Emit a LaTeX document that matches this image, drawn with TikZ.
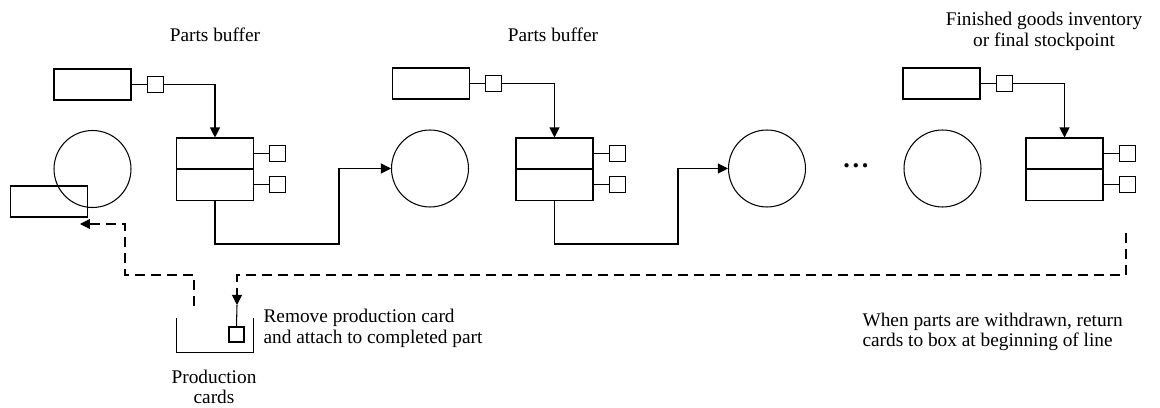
\documentclass[tikz,border=0pt]{standalone}
\usepackage{fontspec}
\setmainfont{Liberation Serif}
\usetikzlibrary{arrows.meta,positioning,calc}
\tikzset{
    rackbox/.style={draw, minimum width=1.54cm, minimum height=0.62cm, inner sep=0pt},
    cardbox/.style={draw, minimum size=0.32cm, inner sep=0pt},
    halfbox/.style={draw, minimum width=1.54cm, minimum height=0.61cm, inner sep=0pt},
    workcircle/.style={draw, circle, minimum size=1.54cm, inner sep=0pt},
    labeltext/.style={align=center, inner sep=0pt, font=\fontsize{11}{11.8}\selectfont},
    notetext/.style={labeltext, align=left, anchor=west},
    partflow/.style={-{Triangle[length=2mm, width=2mm]}, line width=0.6pt},
    cardflow/.style={partflow, dash pattern=on 2mm off 1.2mm}
}
\begin{document}
\begin{tikzpicture}[x=0.02cm, y=-0.02cm, line width=0.6pt, node distance=0.3cm]
\useasboundingbox (0,0) rectangle (1160,408);
% stage 1
\node[rackbox] (rack1) at (92.5,84.5) {};
\node[cardbox, right=of rack1] (kanban1) {};
\node[workcircle] (work1) at (92.5,169) {};
\node[rackbox] (bin0) at (49,201.5) {};
\node[halfbox] (buf1top) at (215,153.25) {};
\node[halfbox, below=0pt of buf1top] (buf1bot) {};
\node[cardbox, right=of buf1top] (tag1a) {};
\node[cardbox, right=of buf1bot] (tag1b) {};
% stage 2
\node[rackbox] (rack2) at (431,83.5) {};
\node[cardbox, right=of rack2] (kanban2) {};
\node[workcircle] (work2) at (430,168.5) {};
\node[halfbox] (buf2top) at (554.5,153.25) {};
\node[halfbox, below=0pt of buf2top] (buf2bot) {};
\node[cardbox, right=of buf2top] (tag2a) {};
\node[cardbox, right=of buf2bot] (tag2b) {};
% last stage
\node[workcircle] (work3) at (767,168.5) {};
\node[inner sep=0pt, font=\fontsize{15}{15}\selectfont\bfseries] (dots) at (856,166) {.\hspace{1.5pt}.\hspace{1.5pt}.};
\node[workcircle] (work4) at (942.5,168.5) {};
\node[rackbox] (rack3) at (941.5,83.5) {};
\node[cardbox, right=of rack3] (kanban3) {};
\node[halfbox] (buf3top) at (1064.5,153.25) {};
\node[halfbox, below=0pt of buf3top] (buf3bot) {};
\node[cardbox, right=of buf3top] (tag3a) {};
\node[cardbox, right=of buf3bot] (tag3b) {};
% production card box
\node[minimum width=1.52cm, minimum height=0.66cm, inner sep=0pt] (cardbin) at (215,335.5) {};
\node[cardbox, minimum size=0.3cm] (prodcard) at (236.5,334.5) {};
% labels
\node[labeltext] (lbl1) at (215,35) {Parts buffer};
\node[labeltext] (lbl2) at (553,35) {Parts buffer};
\node[labeltext] (lbl3) at (1044,31) {Finished goods inventory\\or final stockpoint};
\node[notetext] (removenote) at (263,328) {Remove production card\\and attach to completed part};
\node[labeltext] (prodlabel) at (214,387) {Production\\cards};
\node[notetext] (returnnote) at (862,332) {When parts are withdrawn, return\\cards to box at beginning of line};
% turning points
\coordinate (turn1) at (339,244);
\coordinate (turn2) at (678,244);
\coordinate (retstart) at (1126,233);
\coordinate (retcorner) at (237,275);
\coordinate (drop) at (237,305);
\coordinate (cardout) at (194,306);
\coordinate (backcorner) at (125,275);
\coordinate (backend) at (80,224);
% connectors
\draw (rack1) -- (kanban1);
\draw (rack2) -- (kanban2);
\draw (rack3) -- (kanban3);
\draw[partflow] (kanban1.east) -| (buf1top.north);
\draw[partflow] (kanban2.east) -| (buf2top.north);
\draw[partflow] (kanban3.east) -| (buf3top.north);
\draw (buf1top) -- (tag1a);
\draw (buf1bot) -- (tag1b);
\draw (buf2top) -- (tag2a);
\draw (buf2bot) -- (tag2b);
\draw (buf3top) -- (tag3a);
\draw (buf3bot) -- (tag3b);
\draw[partflow] (buf1bot.south) |- (turn1) |- (work2.west);
\draw[partflow] (buf2bot.south) |- (turn2) |- (work3.west);
\draw (cardbin.north west) |- (cardbin.south east) -- (cardbin.north east);
\draw[cardflow] (retstart) |- (retcorner) -- (drop);
\draw (drop) -- (prodcard.north);
\draw[cardflow] (cardout) |- (backcorner) |- (backend);
\end{tikzpicture}
\end{document}
